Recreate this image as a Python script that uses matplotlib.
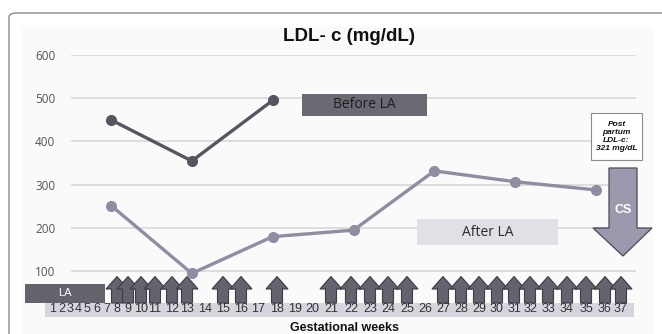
import matplotlib
matplotlib.use("Agg")
import matplotlib.pyplot as plt
from matplotlib.patches import Rectangle, Polygon, FancyBboxPatch

# ---------------- data ----------------
sample_labels = ["wk8", "wk13", "wk18", "wk22", "wk27", "wk31", "wk35"]
before_la = [450, 355, 495]          # LDL-c before lipid apheresis
after_la = [252, 95, 180, 195, 332, 307, 288]  # LDL-c after lipid apheresis
y_ticks = [100, 200, 300, 400, 500, 600]
weeks = list(range(1, 38))
la_weeks = [8, 9, 10, 11, 12, 13, 15, 16, 18, 21, 22, 23, 24, 25,
            27, 28, 29, 30, 31, 32, 33, 34, 35, 36, 37]
postpartum_text = "Post\npartum\nLDL-c:\n321 mg/dL"

# ---------------- layout (pixel positions of week labels) ----------------
week_px = [53, 62, 70, 78, 87, 97, 107, 117, 128, 141, 155, 172, 187, 205,
           223, 241, 258, 277, 295, 312, 331, 351, 370, 388, 407, 425, 443,
           461, 479, 497, 514, 530, 548, 567, 586, 605, 621]

W, H = 662, 334
fig = plt.figure(figsize=(W / 100, H / 100), dpi=100)
fig.patch.set_facecolor("white")

def fx(px):
    return px / W

def fy(py):
    return 1 - py / H

# background and frame
fig.patches.append(Rectangle((fx(22), fy(334)), fx(653) - fx(22), fy(27) - fy(334),
                             transform=fig.transFigure, facecolor="#fafafa",
                             edgecolor="none", zorder=-2))
fig.patches.append(FancyBboxPatch((fx(9), fy(345)), fx(680) - fx(9), fy(13) - fy(345),
                                  boxstyle="round,pad=0,rounding_size=0.012",
                                  transform=fig.transFigure, facecolor="none",
                                  edgecolor="#8a8a8a", lw=1.0, zorder=-1))

# main axes
ax = fig.add_axes([fx(70.6), fy(314.5), (636.4 - 70.6) / W, (314.5 - 55) / H],
                  zorder=1)
ax.set_facecolor("none")
ax.set_xlim(-0.5, 6.5)
ax.set_ylim(0, 600)
ax.set_yticks(y_ticks)
ax.set_yticklabels([str(v) for v in y_ticks], fontsize=8.5, color="#555555",
                   family="Open Sans")
ax.set_xticks([])
ax.tick_params(axis="y", length=0, pad=11)
for s in ax.spines.values():
    s.set_visible(False)
ax.grid(axis="y", color="#dadada", lw=1.3)
ax.set_axisbelow(True)

ax.plot(range(len(before_la)), before_la, color="#55565f", lw=2.4,
        marker="o", ms=7, zorder=3)
ax.plot(range(len(after_la)), after_la, color="#8f8da2", lw=2.4,
        marker="o", ms=7, zorder=3)

# overlay axes in pixel coordinates for annotations
ov = fig.add_axes([0, 0, 1, 1], zorder=5)
ov.set_xlim(0, W)
ov.set_ylim(H, 0)
ov.axis("off")
ov.patch.set_alpha(0)

# title and x label
ov.text(349, 36.5, "LDL- c (mg/dL)", ha="center", va="center", fontsize=13.5,
        fontweight="bold", family="Liberation Sans", color="#111111")
ov.text(344, 328, "Gestational weeks", ha="center", va="center", fontsize=9,
        fontweight="bold", family="Liberation Sans", color="#111111")

# week band
ov.add_patch(Rectangle((45, 303), 634 - 45, 13.5, facecolor="#d6d5de",
                       edgecolor="none", zorder=1))
for w, px in zip(weeks, week_px):
    ov.text(px, 309, str(w), ha="center", va="center", fontsize=9,
            family="Liberation Sans", color="#333333", zorder=4)

# LA box
ov.add_patch(Rectangle((25, 284), 80, 19, facecolor="#62636b",
                       edgecolor="none", zorder=3))
ov.text(65, 293.5, "LA", ha="center", va="center", fontsize=8,
        color="white", family="Liberation Sans", zorder=4)

# apheresis arrows
for w in la_weeks:
    cx = week_px[w - 1]
    hw, sw = 11.0, 5.5
    top, base, bot = 276.5, 289, 303
    pts = [(cx, top), (cx + hw, base), (cx + sw, base), (cx + sw, bot),
           (cx - sw, bot), (cx - sw, base), (cx - hw, base)]
    ov.add_patch(Polygon(pts, closed=True, facecolor="#62636c",
                         edgecolor="#3c3d45", lw=0.8, zorder=3))

# legend-like boxes
ov.add_patch(Rectangle((302, 93.5), 125, 22.5, facecolor="#696a72",
                       edgecolor="none", zorder=2))
ov.text(364.5, 105, "Before LA", ha="center", va="center", fontsize=10,
        family="Open Sans", color="#1e1e1e", zorder=3)
ov.add_patch(Rectangle((417, 219), 141, 26, facecolor="#e0e0e6",
                       edgecolor="none", zorder=2))
ov.text(487.5, 232, "After LA", ha="center", va="center", fontsize=10,
        family="Open Sans", color="#2a2a2a", zorder=3)

# post partum box
ov.add_patch(Rectangle((591, 113), 51, 47, facecolor="white",
                       edgecolor="#8c8c8c", lw=0.8, zorder=2))
ov.text(616.5, 136.5, postpartum_text, ha="center", va="center", fontsize=6,
        fontweight="bold", fontstyle="italic", family="Liberation Sans",
        color="#111111", linespacing=1.15, zorder=3)

# CS arrow
cs = [(609, 168), (637, 168), (637, 228), (652, 228), (623, 256),
      (593, 228), (609, 228)]
ov.add_patch(Polygon(cs, closed=True, facecolor="#9a99ad", edgecolor="#4a4a55",
                     lw=0.9, zorder=2))
ov.text(623, 210, "CS", ha="center", va="center", fontsize=9,
        fontweight="bold", color="white", family="Liberation Sans", zorder=3)

fig.savefig("out.png", dpi=100)
